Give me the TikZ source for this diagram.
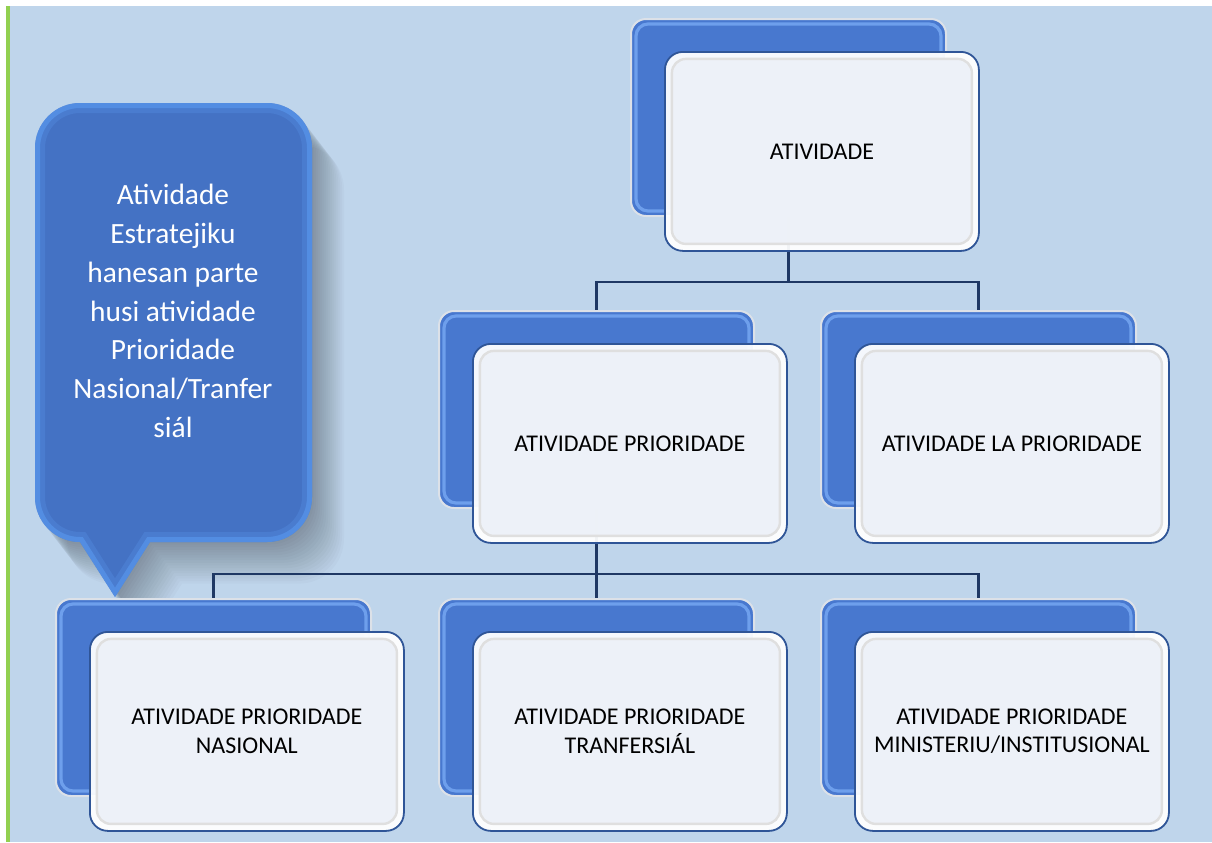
\documentclass[tikz,border=0pt]{standalone}
\usepackage{fontspec}
\setmainfont{Carlito}
\usetikzlibrary{positioning,calc}
\definecolor{bgblue}{HTML}{BFD5EB}
\definecolor{edgegreen}{HTML}{92D050}
\definecolor{cardblue}{HTML}{4878CF}
\definecolor{cardtop}{HTML}{6E9FEC}
\definecolor{cardrim}{HTML}{DCE1E8}
\definecolor{frontfill}{HTML}{EDF1F8}
\definecolor{frontedge}{HTML}{2F5597}
\definecolor{linkblue}{HTML}{1F3864}
\definecolor{bubbleblue}{HTML}{4472C4}
\definecolor{bubbleedge}{HTML}{5C9CF2}
\tikzset{
  backcard/.style={anchor=north west,minimum width=157.5pt,minimum height=98.5pt,
    inner sep=0pt,rounded corners=7.5pt,draw=cardrim,line width=1pt,fill=cardblue,
    path picture={\draw[cardtop,line width=1.6pt,rounded corners=6pt]
      ([shift={(2.5pt,-2.5pt)}]path picture bounding box.north west) rectangle
      ([shift={(-2.5pt,2.5pt)}]path picture bounding box.south east);}},
  frontcard/.style={anchor=north west,minimum width=157pt,minimum height=99.5pt,
    inner sep=0pt,rounded corners=9pt,draw=frontedge,line width=0.9pt,
    fill=white,fill opacity=.94,text opacity=1,align=center,
    font=\fontsize{12}{14.2}\selectfont,
    path picture={\draw[gray!25,fill=frontfill,line width=1.2pt,rounded corners=7pt]
      ([shift={(3.5pt,-3.5pt)}]path picture bounding box.north west) rectangle
      ([shift={(-3.5pt,3.5pt)}]path picture bounding box.south east);}},
  link/.style={draw=linkblue,line width=1.1pt},
  note/.style={text=white,align=center,font=\fontsize{14.7}{19.4}\selectfont}
}
\newcommand*{\bubblepath}{(35,148) arc[start angle=180,end angle=270,radius=45]
  -- (267,103) arc[start angle=270,end angle=360,radius=45]
  -- (312,497) arc[start angle=0,end angle=90,radius=45]
  -- (150,542) -- (115,597) -- (80,542)
  arc[start angle=90,end angle=180,radius=45] -- cycle}

\begin{document}
\begin{tikzpicture}[x=0.5pt,y=-0.5pt]
\useasboundingbox (0,0) rectangle (1212,842);
% Page background and green margin
\fill[white] (0,0) rectangle (1212,842);
\fill[bgblue] (10,6) rectangle (1212,842);
\fill[edgegreen] (6,6) rectangle (10,842);

% Callout with soft shadow
\foreach \s in {2,4,...,32}
  \fill[black,opacity=.02,shift={(\s,1.3*\s)}] \bubblepath;
\fill[bubbleblue] \bubblepath;
\begin{scope}
  \clip \bubblepath;
  \draw[bubbleedge,line width=5pt,opacity=.55] \bubblepath;
  \draw[bubbleedge,line width=10pt,opacity=.25] \bubblepath;
\end{scope}
\node[note] (note) at (173,311) {Atividade\\Estratejiku\\hanesan parte\\husi atividade\\Prioridade\\Nasional/Tranfer\\siál};

% Back cards placed at coordinates
\node[backcard] (top) at (630,18) {};
\node[backcard] (ml) at (438,310) {};
\node[backcard] (mr) at (820,310) {};
\node[backcard] (bl) at (55,598) {};
\node[backcard] (bm) at (438,598) {};
\node[backcard] (br) at (820,598) {};

% Connectors, under the front cards
\coordinate (j1) at ($(top.south)+(0,65)$);
\draw[link] (top.south) -- (j1) -| (ml.north);
\draw[link] (j1) -| (mr.north);
\coordinate (j2) at ($(ml.south)+(0,65)$);
\draw[link] (ml.south) -- (j2) -| (bl.north);
\draw[link] (j2) -- (bm.north);
\draw[link] (j2) -| (br.north);

% Front cards with text
\node[frontcard] (topf) at ($(top.north west)+(34,33)$) {ATIVIDADE};
\node[frontcard] (mlf) at ($(ml.north west)+(34,33)$) {ATIVIDADE PRIORIDADE};
\node[frontcard] (mrf) at ($(mr.north west)+(34,33)$) {ATIVIDADE LA PRIORIDADE};
\node[frontcard] (blf) at ($(bl.north west)+(34,33)$) {ATIVIDADE PRIORIDADE\\NASIONAL};
\node[frontcard] (bmf) at ($(bm.north west)+(34,33)$) {ATIVIDADE PRIORIDADE\\TRANFERSIÁL};
\node[frontcard] (brf) at ($(br.north west)+(34,33)$) {ATIVIDADE PRIORIDADE\\MINISTERIU/INSTITUSIONAL};
\end{tikzpicture}
\end{document}
